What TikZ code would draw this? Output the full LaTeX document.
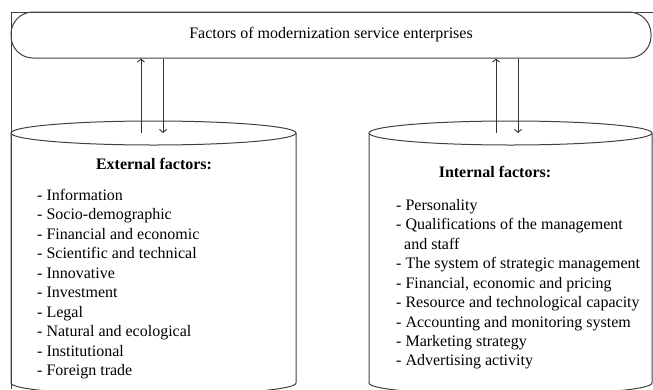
\documentclass[tikz,border=0pt]{standalone}
\usepackage{fontspec}
\setmainfont{Liberation Serif}
\usetikzlibrary{arrows.meta}
\begin{document}
\begin{tikzpicture}[x=1pt,y=-1pt,
  ln/.style={draw=black!75,line width=1pt},
  arr/.style={draw=black!80,line width=0.9pt,-{Straight Barb[length=3pt,width=7pt]}},
  txt/.style={font=\fontsize{16}{19.45}\selectfont,inner sep=0pt},
  hd/.style={font=\fontsize{16}{19}\selectfont\bfseries,inner sep=0pt}]
\useasboundingbox (0,0) rectangle (653,389);
% outer frame
\draw[ln] (11,389) -- (11,12) -- (653,12);
% top box
\node[ln,rounded corners=22pt,minimum width=640pt,minimum height=46pt,txt] (top) at (331,35)
  {Factors of modernization service enterprises};
% left cylinder
\coordinate (extTL) at (11,133);
\coordinate (extTR) at (296,133);
\draw[ln] (extTL) -- (11,383) arc[start angle=180,end angle=0,x radius=142.5,y radius=12] -- (extTR);
\draw[ln] (153.5,133) ellipse [x radius=142.5,y radius=12];
% right cylinder
\coordinate (intTL) at (369,133);
\coordinate (intTR) at (652,133);
\draw[ln] (intTL) -- (369,383) arc[start angle=180,end angle=0,x radius=141.5,y radius=12] -- (intTR);
\draw[ln] (510.5,133) ellipse [x radius=141.5,y radius=12];
% arrows
\coordinate (eu) at (141,133);
\coordinate (ed) at (163,133);
\coordinate (iu) at (496,133);
\coordinate (id) at (518,133);
\draw[arr] (eu) -- (eu |- top.south);
\draw[arr] (ed |- top.south) -- (ed);
\draw[arr] (iu) -- (iu |- top.south);
\draw[arr] (id |- top.south) -- (id);
% headings
\node[hd] (exth) at (154,164) {External factors:};
\node[hd] (inth) at (495,172) {Internal factors:};
% lists
\node[txt,align=left,anchor=north west] (extl) at (37,189) {- Information\\
- Socio-demographic\\
- Financial and economic\\
- Scientific and technical\\
- Innovative\\
- Investment\\
- Legal\\
- Natural and ecological\\
- Institutional\\
- Foreign trade};
\node[txt,align=left,anchor=north west] (intl) at (396,199) {- Personality\\
- Qualifications of the management\\
\ \ and staff\\
- The system of strategic management\\
- Financial, economic and pricing\\
- Resource and technological capacity\\
- Accounting and monitoring system\\
- Marketing strategy\\
- Advertising activity};
\end{tikzpicture}
\end{document}
